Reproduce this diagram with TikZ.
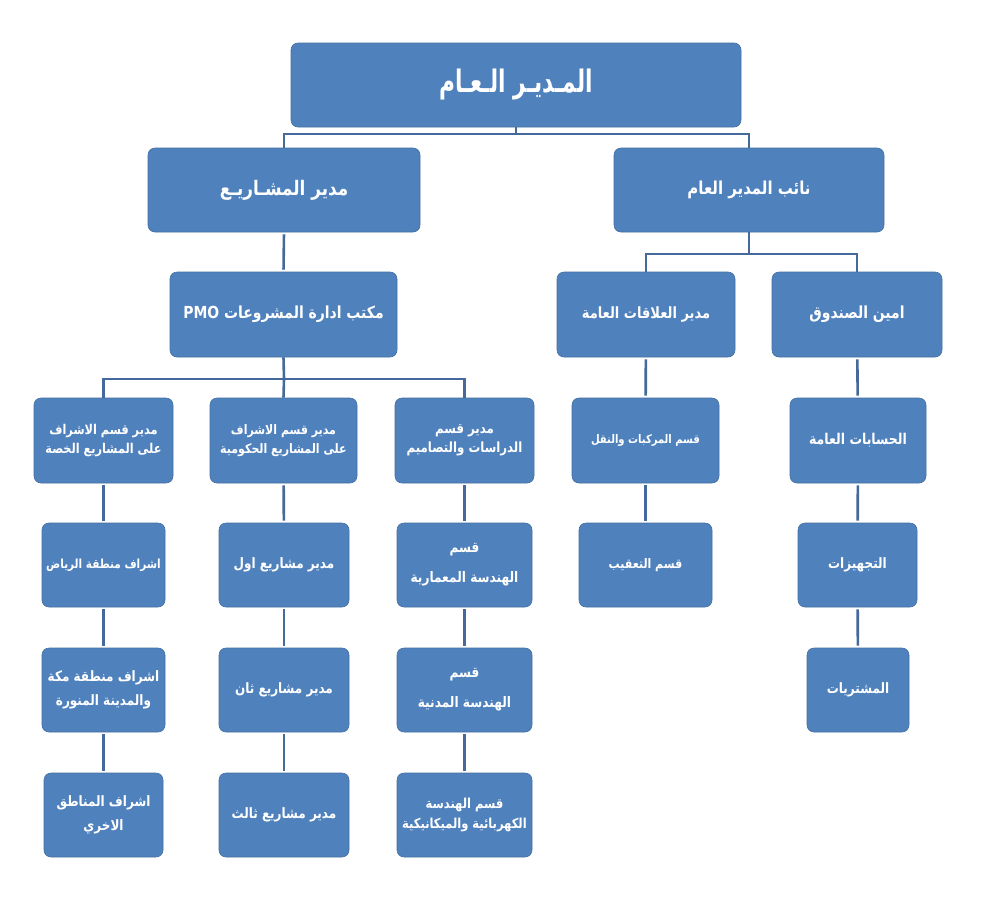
\documentclass[tikz,border=0pt]{standalone}
\usepackage{fontspec}
\usepackage{graphicx}
\TeXXeTstate=1
\newfontfamily\arabicfont[Script=Arabic]{DejaVu Sans}
\definecolor{boxfill}{HTML}{4F81BD}
\definecolor{boxedge}{HTML}{44709F}
\definecolor{linecol}{HTML}{45699A}
\newcommand{\arfs}[2]{\arabicfont\bfseries\fontsize{#1}{#2}\selectfont}
\tikzset{
  box/.style={draw=boxedge, line width=0.6pt, fill=boxfill, rounded corners=7pt,
    text=white, align=center, inner sep=2pt, font=\arfs{12}{20}},
  conn/.style={draw=linecol, line width=2.6pt},
  vconn/.style={conn, shorten <=2pt, shorten >=2pt},
}
\newcommand{\ar}[1]{\scalebox{0.84}[1]{\beginR #1\endR}}
\begin{document}
\begin{tikzpicture}[x=1pt,y=-1pt]
\useasboundingbox[fill=white] (0,0) rectangle (1000,900);
% level 1
\node[box, minimum width=450pt, minimum height=84pt, font=\arfs{31}{36}] (top) at (516,85) {\scalebox{0.70}[1]{\beginR المـديـر الـعـام\endR}};
% level 2
\node[box, minimum width=272pt, minimum height=84pt, font=\arfs{20}{24}] (pm) at (284,190) {\ar{مدير المشـاريـع}};
\node[box, minimum width=270pt, minimum height=84pt, font=\arfs{17.8}{22}] (dep) at (749,190) {\ar{نائب المدير العام}};
% level 3
\node[box, minimum width=227pt, minimum height=85pt, font=\arfs{16.6}{20}] (pmo) at (283.5,314.5) {\ar{مكتب ادارة المشروعات \beginL PMO\endL}};
\node[box, minimum width=178pt, minimum height=85pt, font=\arfs{15.5}{19}] (pr) at (646,314.5) {\ar{مدير العلاقات العامة}};
\node[box, minimum width=170pt, minimum height=85pt, font=\arfs{16.6}{20}] (tr) at (857,314.5) {\ar{امين الصندوق}};
% level 4
\node[box, minimum width=139pt, minimum height=85pt, font=\arfs{13.5}{18.5}] (a1) at (103.5,440.5) {\ar{مدير قسم الاشراف}\\\ar{على المشاريع الخصة}};
\node[box, minimum width=147pt, minimum height=85pt, font=\arfs{13.1}{18.5}] (b1) at (283.5,440.5) {\ar{مدير قسم الاشراف}\\\ar{على المشاريع الحكومية}};
\node[box, minimum width=139pt, minimum height=85pt, font=\arfs{14}{18.5}] (c1) at (464.5,440.5) {\ar{مدير قسم}\\\ar{الدراسات والتصاميم}};
\node[box, minimum width=147pt, minimum height=85pt, font=\arfs{11.9}{16}] (d1) at (645.5,440.5) {\ar{قسم المركبات والنقل}};
\node[box, minimum width=136pt, minimum height=85pt, font=\arfs{14.9}{18}] (e1) at (858,440.5) {\ar{الحسابات العامة}};
% level 5-7
\node[box, minimum width=123pt, minimum height=84pt, font=\arfs{12.5}{16}] (a2) at (103.5,565) {\ar{اشراف منطقة الرياض}};
\node[box, minimum width=123pt, minimum height=84pt, font=\arfs{14.3}{24}] (a3) at (103.5,690) {\ar{اشراف منطقة مكة}\\\ar{والمدينة المنورة}};
\node[box, minimum width=119pt, minimum height=84pt, font=\arfs{14.3}{24}] (a4) at (103.5,815) {\ar{اشراف المناطق}\\\ar{الاخري}};
\node[box, minimum width=130pt, minimum height=84pt, font=\arfs{14.3}{20}] (b2) at (284,565) {\ar{مدير مشاريع اول}};
\node[box, minimum width=130pt, minimum height=84pt, font=\arfs{14.3}{20}] (b3) at (284,690) {\ar{مدير مشاريع ثان}};
\node[box, minimum width=130pt, minimum height=84pt, font=\arfs{14.3}{20}] (b4) at (284,815) {\ar{مدير مشاريع ثالث}};
\node[box, minimum width=135pt, minimum height=84pt, font=\arfs{14.5}{30}] (c2) at (464.5,565) {\ar{قسم}\\\ar{الهندسة المعمارية}};
\node[box, minimum width=135pt, minimum height=84pt, font=\arfs{14.5}{30}] (c3) at (464.5,690) {\ar{قسم}\\\ar{الهندسة المدنية}};
\node[box, minimum width=135pt, minimum height=84pt, font=\arfs{13.7}{20}] (c4) at (464.5,815) {\ar{قسم الهندسة}\\\ar{الكهربائية والميكانيكية}};
\node[box, minimum width=133pt, minimum height=84pt, font=\arfs{13.1}{20}] (d2) at (645.5,565) {\ar{قسم التعقيب}};
\node[box, minimum width=119pt, minimum height=84pt, font=\arfs{14.3}{20}] (e2) at (857.5,565) {\ar{التجهيزات}};
\node[box, minimum width=102pt, minimum height=84pt, font=\arfs{14.3}{20}] (e3) at (858,690) {\ar{المشتريات}};
% junctions
\coordinate (j1) at (516,134);
\coordinate (j2) at (749,254);
\coordinate (j3) at (284,379);
% connectors
\draw[conn] (top.south) -- (j1);
\draw[conn] (pm.north) |- (j1) -| (dep.north);
\draw[vconn] (pm.south) -- (pmo.north);
\draw[conn] (dep.south) -- (j2);
\draw[conn] (pr.north) |- (j2) -| (tr.north);
\draw[conn] (pmo.south) -- (j3);
\draw[conn] (a1.north) |- (j3) -| (c1.north);
\draw[conn] (j3) -- (b1.north);
\draw[vconn] (a1) -- (a2);
\draw[vconn] (a2) -- (a3);
\draw[vconn] (a3) -- (a4);
\draw[vconn] (b1) -- (b2);
\draw[vconn] (b2) -- (b3);
\draw[vconn] (b3) -- (b4);
\draw[vconn] (c1) -- (c2);
\draw[vconn] (c2) -- (c3);
\draw[vconn] (c3) -- (c4);
\draw[vconn] (pr) -- (d1);
\draw[vconn] (d1) -- (d2);
\draw[vconn] (tr) -- (e1);
\draw[vconn] (e1) -- (e2);
\draw[vconn] (e2) -- (e3);
\end{tikzpicture}
\end{document}
